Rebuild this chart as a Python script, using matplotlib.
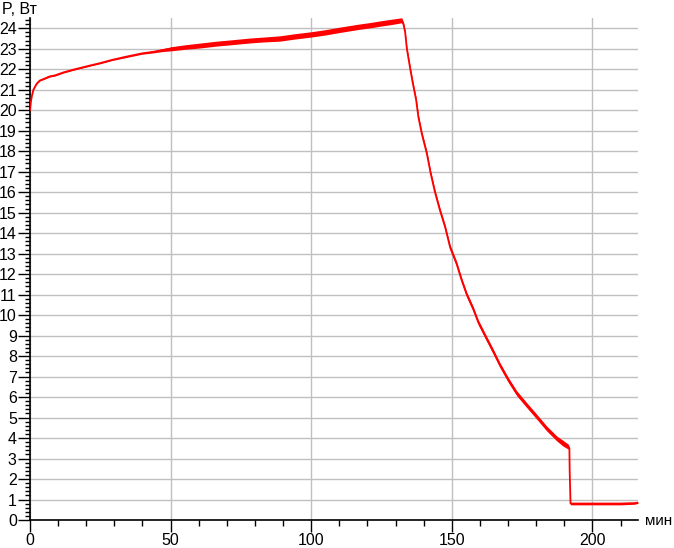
import matplotlib
matplotlib.use("Agg")
import matplotlib.pyplot as plt
from matplotlib.ticker import MultipleLocator

plt.rcParams['font.family'] = ['Liberation Sans', 'DejaVu Sans']

# time, minutes
time_min = [0, 0.3, 0.6, 1.2, 2.4, 3.5, 5.3, 7, 8.9, 12, 16, 21.9, 25, 29, 33.8,
            39.7, 43.9, 47, 50.3, 55, 60, 66.4, 72, 78, 83, 88.9, 94, 100, 105,
            110, 116.8, 121, 125, 129, 132.2, 132.8, 133.4, 134, 135.1, 136,
            137.3, 138.1, 139.3, 141.1, 142.5, 144, 145.8, 147.6, 149.4, 151.7,
            153.5, 155.3, 157.6, 159.4, 161.8, 164.8, 167.1, 170.1, 173.1, 176.6,
            180.2, 183.7, 187.3, 189.5, 191.4, 191.8, 191.9, 192.2, 195, 200,
            205, 210, 215, 216.2]
# power, W
power_w = [20.0, 20.4, 20.65, 21.0, 21.3, 21.45, 21.55, 21.65, 21.7, 21.85, 22.0,
           22.2, 22.3, 22.45, 22.6, 22.77, 22.85, 22.93, 23.0, 23.08, 23.15, 23.25,
           23.32, 23.4, 23.45, 23.5, 23.6, 23.7, 23.8, 23.92, 24.07, 24.15, 24.24,
           24.32, 24.39, 24.2, 23.8, 23.0, 22.1, 21.4, 20.5, 19.67, 18.86, 17.89,
           16.9, 16.0, 15.1, 14.3, 13.3, 12.5, 11.7, 11.0, 10.3, 9.65, 9.0, 8.2,
           7.56, 6.83, 6.18, 5.61, 5.04, 4.47, 3.98, 3.75, 3.58, 3.5, 2.4, 0.8,
           0.8, 0.8, 0.8, 0.8, 0.82, 0.85]
# visible noise half-width, W
noise_w = [0.02, 0.02, 0.02, 0.02, 0.02, 0.02, 0.03, 0.03, 0.03, 0.03, 0.03,
           0.03, 0.03, 0.03, 0.04, 0.04, 0.05, 0.07, 0.1, 0.11, 0.12, 0.12,
           0.12, 0.12, 0.12, 0.13, 0.13, 0.13, 0.13, 0.13, 0.13, 0.13, 0.13,
           0.13, 0.12, 0.1, 0.1, 0.1, 0.12, 0.12, 0.12, 0.12, 0.12, 0.12,
           0.12, 0.12, 0.12, 0.12, 0.12, 0.12, 0.12, 0.12, 0.12, 0.12, 0.12,
           0.12, 0.12, 0.12, 0.12, 0.12, 0.12, 0.12, 0.12, 0.14, 0.12, 0.05,
           0.0, 0.06, 0.06, 0.06, 0.06, 0.06, 0.05, 0.04]
assert len(time_min) == len(power_w) == len(noise_w)

y_ticks = list(range(0, 25))
x_ticks = [0, 50, 100, 150, 200]

fig = plt.figure(figsize=(6.74, 5.48), dpi=100)
ax = fig.add_axes([30 / 674, 28 / 548, (638.3 - 30) / 674, (520 - 18) / 548])

lo = [p - n for p, n in zip(power_w, noise_w)]
hi = [p + n for p, n in zip(power_w, noise_w)]
ax.fill_between(time_min, lo, hi, color='#ff0000', linewidth=0, zorder=3)
ax.plot(time_min, power_w, color='#ff0000', lw=1.3, zorder=4)

ax.set_xlim(0, 216.3)
ax.set_ylim(0, 24.5)

ax.set_xticks(x_ticks)
ax.set_yticks(y_ticks)
ax.xaxis.set_minor_locator(MultipleLocator(10))
ax.yaxis.set_minor_locator(MultipleLocator(0.2))

ax.grid(True, which='major', color='#c0c0c0', lw=1.0, zorder=0)
ax.set_axisbelow(True)

for s in ['top', 'right']:
    ax.spines[s].set_visible(False)
for s in ['left', 'bottom']:
    ax.spines[s].set_color('black')
    ax.spines[s].set_linewidth(1.2)

ax.tick_params(axis='both', which='major', direction='out', length=8.5, width=1.0,
               colors='black', labelsize=11.5, pad=1)
ax.tick_params(axis='both', which='minor', direction='out', length=3.5, width=1.0,
               colors='black')
ax.tick_params(axis='x', which='minor', length=4.5)

fig.text(2 / 674, 1 - 10 / 548, 'P, Вт', fontsize=11.5, ha='left', va='center')
fig.text(672 / 674, 1 - 521 / 548, 'мин', fontsize=11, ha='right', va='center')

fig.savefig('out.png', dpi=100)
